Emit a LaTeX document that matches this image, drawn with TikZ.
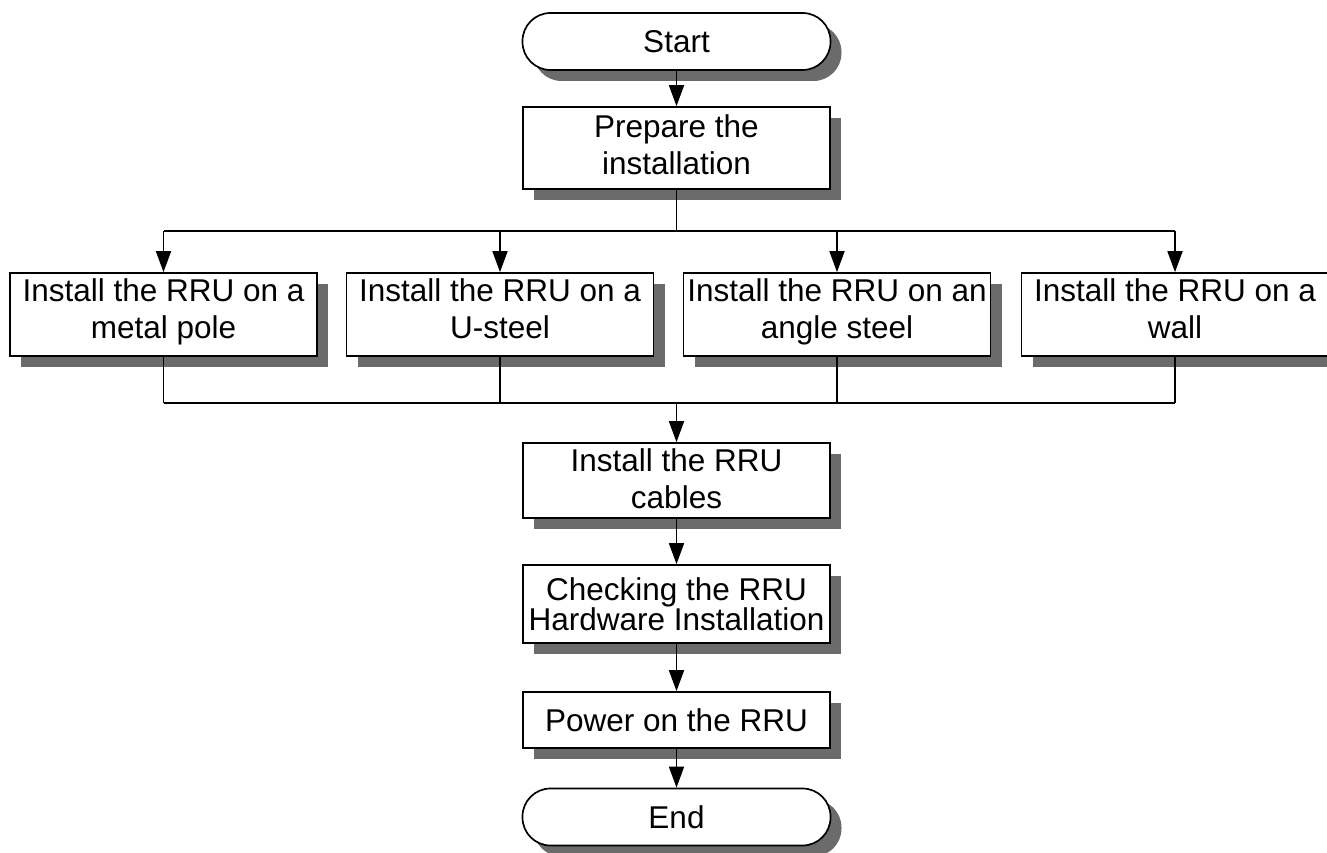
\documentclass[tikz,border=0pt]{standalone}
\usepackage{fontspec}
\setmainfont{Liberation Sans}
\usetikzlibrary{arrows.meta,shadows}
\definecolor{shadowgray}{HTML}{6B6B6B}
\begin{document}
\begin{tikzpicture}[x=1pt,y=-1pt,
  font=\fontsize{31.5}{37}\selectfont,
  box/.style={draw=black, line width=1.7pt, fill=white, align=center, inner sep=0pt,
    drop shadow={shadow xshift=11pt, shadow yshift=-11pt, opacity=1, fill=shadowgray}},
  tl/.style 2 args={execute at begin node={\vrule width0pt height#1},
    execute at end node={\vrule width0pt height0pt depth#2}},
  oneline/.style={execute at begin node={\vrule width0pt height26pt depth3.4pt}},
  proc/.style={box, rectangle, minimum width=307pt, minimum height=#1},
  term/.style={box, oneline, rectangle, rounded corners=28pt, minimum width=308pt, minimum height=57pt},
  conn/.style={line width=1.7pt},
  arr/.style={conn, -{Triangle[width=15pt,length=21pt]}}
]
\useasboundingbox (0,0) rectangle (1327,853);

\node[term] (start) at (676.5,41.5) {Start};
\node[proc=82pt, tl={26pt}{6pt}] (prep) at (676.5,148) {Prepare the\\installation};
\node[proc=83pt, tl={26pt}{12pt}] (b1) at (163.5,314.5) {Install the RRU on a\\metal pole};
\node[proc=83pt, tl={26pt}{12pt}] (b2) at (500,314.5) {Install the RRU on a\\U-steel};
\node[proc=83pt, tl={26pt}{12pt}] (b3) at (837,314.5) {Install the RRU on an\\angle steel};
\node[proc=83pt, tl={26pt}{12pt}] (b4) at (1175,314.5) {Install the RRU on a\\wall};
\node[proc=75pt, tl={26pt}{4pt}] (cab) at (676.5,480.5) {Install the RRU\\cables};
\node[proc=78pt, tl={30pt}{0pt}, font=\fontsize{31.5}{30}\selectfont] (chk) at (676.5,604) {Checking the RRU\\Hardware Installation};
\node[proc=56pt, oneline] (pwr) at (676.5,720) {Power on the RRU};
\node[term] (end) at (676.5,817) {End};

\coordinate (t) at (676.5,231);
\coordinate (b) at (676.5,403);

\draw[arr] (start) -- (prep);
\draw[conn] (prep.south) -- (t);
\draw[conn] (b1.north |- t) -- (b4.north |- t);
\foreach \i in {1,2,3,4} {
  \draw[arr] (b\i.north |- t) -- (b\i.north);
  \draw[conn] (b\i.south) -- (b\i.south |- b);
}
\draw[conn] (b1.south |- b) -- (b4.south |- b);
\draw[arr] (b) -- (cab);
\draw[arr] (cab) -- (chk);
\draw[arr] (chk) -- (pwr);
\draw[arr] (pwr) -- (end);
\end{tikzpicture}
\end{document}
